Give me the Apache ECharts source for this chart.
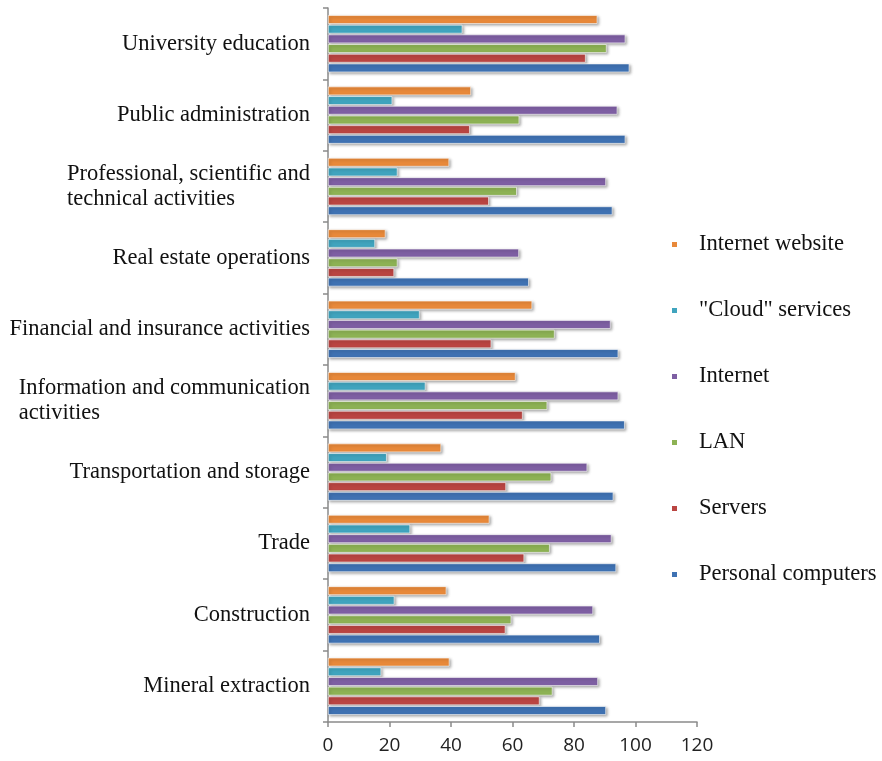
<!DOCTYPE html>
<html>
<head>
<meta charset="utf-8">
<script src="https://cdn.jsdelivr.net/npm/echarts@6/dist/echarts.min.js"></script>
<style>html,body{margin:0;padding:0;background:#fff;}#c{width:882px;height:761px;}</style>
</head>
<body>
<div id="c"></div>
<script>
// Categories, bottom to top
const categories = [
  "Mineral extraction",
  "Construction",
  "Trade",
  "Transportation and storage",
  "Information and communication\nactivities",
  "Financial and insurance activities",
  "Real estate operations",
  "Professional, scientific and\ntechnical activities",
  "Public administration",
  "University education"
];
const seriesNames = ["Internet website", "\"Cloud\" services", "Internet", "LAN", "Servers", "Personal computers"];
const internetWebsite = [39.5, 38.5, 52.5, 36.8, 61.0, 66.4, 18.7, 39.4, 46.5, 87.6];
const cloudServices   = [17.3, 21.6, 26.7, 19.1, 31.7, 29.8, 15.3, 22.6, 20.9, 43.7];
const internet        = [87.8, 86.2, 92.2, 84.3, 94.4, 91.9, 62.1, 90.4, 94.1, 96.7];
const lan             = [73.0, 59.6, 72.1, 72.6, 71.3, 73.7, 22.6, 61.4, 62.2, 90.6];
const servers         = [68.8, 57.7, 63.8, 57.9, 63.3, 53.1, 21.5, 52.3, 46.1, 83.8];
const personalComputers = [90.4, 88.4, 93.7, 92.8, 96.5, 94.4, 65.3, 92.5, 96.7, 98.0];
const xTicks = [0, 20, 40, 60, 80, 100, 120];

const values = [internetWebsite, cloudServices, internet, lan, servers, personalComputers];
const colors = ["#E8893A", "#40A4BE", "#7E5FA3", "#8DB254", "#BA4542", "#3F72B3"];

const chart = echarts.init(document.getElementById('c'), null, {renderer: 'canvas'});
const serif = "'Liberation Serif', 'Times New Roman', serif";
chart.setOption({
  backgroundColor: '#fff',
  animation: false,
  color: colors,
  grid: {left: 328, right: 185, top: 8, bottom: 39, containLabel: false},
  legend: {
    orient: 'vertical',
    left: 665,
    top: 228,
    icon: 'rect',
    itemWidth: 7,
    itemHeight: 7,
    itemGap: 43,
    data: seriesNames,
    textStyle: {fontFamily: serif, fontSize: 22.6, color: '#111', lineHeight: 22, padding: [0, 0, 0, 16]}
  },
  xAxis: {
    type: 'value',
    min: 0, max: 120, interval: 20,
    splitLine: {show: false},
    axisLine: {show: true, lineStyle: {color: '#8a8a8a', width: 1.5}},
    axisTick: {show: true, length: 5, lineStyle: {color: '#8a8a8a', width: 1.5}},
    axisLabel: {
      fontFamily: "'Open Sans', 'Liberation Sans', sans-serif", fontSize: 19, color: '#222', margin: 14,
      formatter: function (v) { return xTicks.indexOf(v) >= 0 ? String(v) : ''; }
    }
  },
  yAxis: {
    type: 'category',
    data: categories,
    axisLine: {show: true, lineStyle: {color: '#8a8a8a', width: 1.5}},
    axisTick: {show: true, length: 5, lineStyle: {color: '#8a8a8a', width: 1.5}},
    axisLabel: {
      margin: 18,
      formatter: function (v) { return v.split('\n').map(function (s) { return '{a|' + s + '}'; }).join('\n'); },
      rich: {a: {align: 'left', fontFamily: serif, fontSize: 22.5, color: '#111', lineHeight: 25}}
    }
  },
  series: seriesNames.map(function (name, i) {
    return {
      name: name,
      type: 'bar',
      data: values[i],
      barGap: '12%',
      barCategoryGap: '20%',
      itemStyle: {
        color: colors[i],
        borderColor: '#ffffff',
        borderWidth: 0.6,
        shadowColor: 'rgba(0,0,0,0.35)',
        shadowBlur: 3,
        shadowOffsetX: 1.5,
        shadowOffsetY: 1.5
      }
    };
  })
});
</script>
</body>
</html>
